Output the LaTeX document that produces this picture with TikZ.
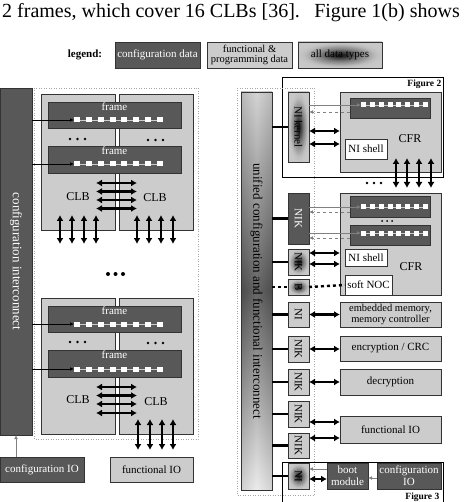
\documentclass[tikz,border=0pt]{standalone}
\usepackage{fontspec}
\setmainfont{Liberation Serif}
\usetikzlibrary{arrows.meta,calc}
\definecolor{dk}{HTML}{585858}
\definecolor{lt}{HTML}{CCCCCC}
\definecolor{edge}{HTML}{333333}
\pgfdeclareradialshading{mixshade}{\pgfpoint{0bp}{0bp}}{color(0bp)=(black!90); color(3bp)=(black!85); color(12bp)=(black!50); color(21bp)=(black!26); color(25bp)=(black!22); color(50bp)=(black!20)}
\newcommand\fsz[2]{\fontsize{#1}{#2}\selectfont}
\newcommand\bx[7][]{\node[#1,inner sep=0pt,outer sep=0pt,align=center,minimum width={#4pt-#2pt},minimum height={#5pt-#3pt},anchor=north west] (#6) at (#2,#3) {#7};}
\newcommand\chain[6]{% name, first x, pitch, y, w, h
  \foreach \i in {1,...,8}{\node[sq,minimum width=#5pt,minimum height=#6pt] (#1-\i) at ({#2+(\i-1)*#3},#4) {};}
  \foreach \i [count=\j from 2] in {1,...,7}{\draw[chainln] (#1-\i.east) -- (#1-\j.west);}
}
\begin{document}
\begin{tikzpicture}[x=1pt,y=-1pt,
  every node/.style={font=\fsz{11}{12}},
  darkbox/.style={draw=edge,fill=dk,text=white,line width=0.8pt},
  ltbox/.style={draw=edge,fill=lt,line width=0.8pt},
  wbox/.style={draw=edge,fill=white,line width=0.8pt},
  mixbox/.style={draw=edge,shade,shading=mixshade,line width=0.8pt},
  sq/.style={fill=white,draw=none,inner sep=0pt,outer sep=0pt},
  chainln/.style={line width=0.5pt,draw=white!80!black},
  feed/.style={line width=0.5pt,draw=black,-{Latex[length=4pt,width=3.5pt]}},
  back/.style={line width=0.5pt,draw=gray,dashed,-{Latex[length=4pt,width=3.5pt]}},
  gfeed/.style={line width=0.5pt,draw=gray,-{Latex[length=4pt,width=3.5pt]}},
  dbl/.style={line width=2.2pt,{Latex[length=6pt,width=7pt]}-{Latex[length=6pt,width=7pt]}},
  thk/.style={line width=2.4pt},
  dotln/.style={line width=2.4pt,dash pattern=on 3pt off 3pt},
  outl/.style={draw=gray!70,dotted,line width=0.5pt},
  rot/.style={rotate=-90},
  figlbl/.style={font=\bfseries\fsz{9.5}{10},inner sep=1.5pt}
]
\useasboundingbox (0,0) rectangle (464,502);

% ---------- running text ----------
\node[anchor=base west,inner sep=0pt,font=\fsz{20}{22}] (t1) at (2,17.5) {2 frames, which cover 16 CLBs [36].};
\node[anchor=base east,inner sep=0pt,font=\fsz{20}{22}] (t2) at (460,17.5) {Figure 1(b) shows};

% ---------- legend ----------
\node[font=\bfseries\fsz{11}{12}] (lg) at (85,55) {legend:};
\bx[darkbox]{115}{42}{200}{68}{lgA}{configuration data}
\bx[ltbox,font=\fsz{10.5}{10}]{207}{42}{292}{68}{lgB}{functional \&\\programming data}
\bx[mixbox]{298}{42}{382}{68}{lgC}{all data types}

% ---------- left: configuration interconnect ----------
\bx[darkbox]{0}{88}{32}{435}{cint}{}
\node[rot,text=white,font=\fsz{13}{14}] at (cint.center) {configuration interconnect};
\draw[outl] (34,88) rectangle (198,439);

% upper CLB pair
\bx[ltbox]{41}{94}{115}{230}{clbA}{}
\bx[ltbox]{119}{94}{193}{230}{clbB}{}
\bx[darkbox]{48}{102}{181}{128}{frA1}{}
\node[anchor=north,text=white,inner sep=1pt] at (frA1.north) {frame};
\chain{cA1}{77}{11.86}{120}{6}{5}
\draw[feed] (cA1-1.west -| cint.east) -- (cA1-1.west);
\bx[darkbox]{48}{146}{181}{173}{frA2}{}
\node[anchor=north,text=white,inner sep=1pt] at (frA2.north) {frame};
\chain{cA2}{77}{11.86}{164}{6}{5}
\draw[feed] (cA2-1.west -| cint.east) -- (cA2-1.west);
\foreach \x in {70,77.5,85} \fill (\x,139) circle (1.3pt);
\foreach \x in {148,155.5,163} \fill (\x,140) circle (1.3pt);
\node[font=\fsz{12}{13}] at (78,197) {CLB};
\node[font=\fsz{12}{13}] at (155,198) {CLB};
\foreach \y in {183,191.5,200,208.5}
  \draw[dbl] ($(clbA.east |- 0,\y)+(-19,0)$) -- ($(clbB.west |- 0,\y)+(18,0)$);
\foreach \x in {60,72,84,96}
  \draw[dbl] ($(clbA.south -| \x,0)+(0,-15)$) -- ($(clbA.south -| \x,0)+(0,14)$);
\foreach \x in {137,149,161,173}
  \draw[dbl] ($(clbB.south -| \x,0)+(0,-15)$) -- ($(clbB.south -| \x,0)+(0,14)$);

\foreach \x in {108,115.5,123} \fill (\x,274) circle (2pt);

% lower CLB pair
\bx[ltbox]{41}{298}{115}{434}{clbC}{}
\bx[ltbox]{119}{298}{193}{434}{clbD}{}
\bx[darkbox]{48}{306}{181}{332}{frC1}{}
\node[anchor=north,text=white,inner sep=1pt] at (frC1.north) {frame};
\chain{cC1}{77}{11.86}{324}{6}{5}
\draw[feed] (cC1-1.west -| cint.east) -- (cC1-1.west);
\bx[darkbox]{48}{350}{181}{377}{frC2}{}
\node[anchor=north,text=white,inner sep=1pt] at (frC2.north) {frame};
\chain{cC2}{77}{11.86}{369}{6}{5}
\draw[feed] (cC2-1.west -| cint.east) -- (cC2-1.west);
\foreach \x in {70,77.5,85} \fill (\x,342) circle (1.3pt);
\foreach \x in {148,155.5,163} \fill (\x,343) circle (1.3pt);
\node[font=\fsz{12}{13}] at (78,400) {CLB};
\node[font=\fsz{12}{13}] at (156,402) {CLB};
\foreach \y in {387,395.5,404,413}
  \draw[dbl] ($(clbC.east |- 0,\y)+(-19,0)$) -- ($(clbD.west |- 0,\y)+(18,0)$);
\foreach \x in {138,150,162,173}
  \draw[dbl] ($(clbD.south -| \x,0)+(0,-15)$) -- ($(clbD.south -| \x,0)+(0,16)$);

\bx[darkbox]{0}{457}{84}{482}{cio}{configuration IO}
\draw[gfeed] (cio.north -| 16,0) -- (cint.south -| 16,0);
\bx[ltbox]{110}{457}{193}{482}{fio}{functional IO}

% ---------- right: unified interconnect ----------
\bx[draw=black,line width=1pt,fill=white]{282}{78}{443}{178}{fig2}{}
\node[figlbl,anchor=north east] at (fig2.north east) {Figure 2};
\bx[draw=black,line width=1pt,fill=white]{282}{462}{443}{512}{fig3}{}
\node[figlbl,anchor=base east] at (441,499) {Figure 3};

\path node[inner sep=0pt,outer sep=0pt,minimum width=31pt,minimum height=398pt,anchor=north west] (uni) at (241,92) {};
\shade[top color=gray!45,bottom color=black!80] (uni.north west) rectangle (uni.east);
\shade[top color=black!80,bottom color=gray!20] (uni.west) rectangle (uni.south east);
\shade[left color=black!40,right color=black!40,middle color=white,opacity=0.25] (uni.north west) rectangle (uni.south east);
\draw[edge,line width=0.8pt] (uni.north west) rectangle (uni.south east);
\node[rot,font=\fsz{13}{14}] at (uni.center) {unified configuration and functional interconnect};
\draw[outl] (237,88) rectangle (314,495);

% Figure 2 region: NI kernel + CFR
\bx[mixbox]{288}{92}{309}{162}{nik1}{}
\node[rot] at (nik1.center) {NI kernel};
\draw[thk] (nik1.west -| uni.east) -- (nik1.west);
\bx[ltbox]{340}{92}{441}{172}{cfr1}{}
\bx[darkbox]{350}{98}{430}{118}{fr1}{}
\chain{c1}{363.5}{8.86}{105}{5}{5}
\draw[gfeed] (c1-1.west -| nik1.east) -- (c1-1.west);
\draw[back] (fr1.west |- 0,112) -- (nik1.east |- 0,112);
\draw[dbl] (nik1.east |- 0,131) -- (cfr1.west |- 0,131);
\draw[dbl] (nik1.east |- 0,144) -- (cfr1.west |- 0,144);
\bx[wbox]{345}{139}{387}{159}{sh1}{NI shell}
\node[font=\fsz{12}{13}] at (410,139) {CFR};
\foreach \x in {396,407,419,431}
  \draw[dbl] ($(cfr1.south -| \x,0)+(0,-14)$) -- ($(cfr1.south -| \x,0)+(0,16)$);
\foreach \x in {367,374,381} \fill (\x,183) circle (1.3pt);

% second CFR
\bx[ltbox]{340}{193}{441}{295}{cfr2}{}
\bx[darkbox]{350}{196}{430}{217}{fr2a}{}
\chain{c2a}{363.5}{8.86}{207}{5}{5}
\foreach \x in {382,387,392} \fill (\x,221) circle (1pt);
\bx[darkbox]{350}{225}{430}{245}{fr2b}{}
\chain{c2b}{363.5}{8.86}{233}{5}{5}
\bx[darkbox]{288}{193}{309}{244}{nik2}{}
\node[rot,text=white] at (nik2.center) {NIK};
\draw[thk] (nik2.west -| uni.east) -- (nik2.west);
\draw[gfeed] (c2a-1.west -| nik2.east) -- (c2a-1.west);
\draw[back] (fr2a.west |- 0,212) -- (nik2.east |- 0,212);
\draw[gfeed] (c2b-1.west -| nik2.east) -- (c2b-1.west);
\draw[back] (fr2b.west |- 0,238) -- (nik2.east |- 0,238);

\bx[mixbox]{288}{249}{309}{275}{nik3}{}
\node[rot] at (nik3.center) {NIK};
\draw[thk] (nik3.west -| uni.east) -- (nik3.west);
\draw[dbl] (nik3.east |- 0,253) -- (cfr2.west |- 0,253);
\draw[dbl] (nik3.east |- 0,264) -- (cfr2.west |- 0,264);
\bx[wbox]{345}{249}{387}{266}{sh2}{NI shell}
\node[font=\fsz{12}{13}] at (411,267) {CFR};

\bx[mixbox]{288}{279}{309}{295}{bb}{}
\node[rot] at (bb.center) {B};
\bx[wbox]{345}{275}{392}{295}{noc}{soft NOC}
\draw[dotln] (bb.west -| uni.east) -- (bb.west);
\draw[dotln] (bb.east) -- (noc.west);

% other units
\bx[ltbox]{288}{302}{309}{327}{ni4}{}
\node[rot] at (ni4.center) {NI};
\bx[ltbox,font=\fsz{10.5}{10.5}]{340}{302}{441}{327}{mem}{embedded memory,\\memory controller}
\draw[thk] (ni4.west -| uni.east) -- (ni4.west);
\draw[dbl] (ni4.east) -- (mem.west |- ni4.east);

\bx[ltbox]{288}{336}{309}{362}{nik5}{}
\node[rot] at (nik5.center) {NIK};
\bx[ltbox]{340}{336}{441}{361}{enc}{encryption / CRC}
\draw[thk] (nik5.west -| uni.east) -- (nik5.west);
\draw[dbl] (nik5.east) -- (enc.west |- nik5.east);

\bx[ltbox]{288}{369}{309}{395}{nik6}{}
\node[rot] at (nik6.center) {NIK};
\bx[ltbox]{340}{369}{441}{395}{dec}{decryption}
\draw[thk] (nik6.west -| uni.east) -- (nik6.west);
\draw[dbl] (nik6.east) -- (dec.west |- nik6.east);

\bx[ltbox]{288}{401}{309}{427}{nik7}{}
\node[rot] at (nik7.center) {NIK};
\bx[ltbox]{288}{433}{309}{458}{nik8}{}
\node[rot] at (nik8.center) {NIK};
\bx[ltbox]{340}{416}{441}{443}{fio2}{functional IO}
\draw[thk] (nik7.west -| uni.east) -- (nik7.west);
\draw[thk] (nik8.west -| uni.east) -- (nik8.west);
\draw[dbl] (nik7.east |- 0,422) -- (fio2.west |- 0,422);
\draw[dbl] (nik8.east |- 0,438) -- (fio2.west |- 0,438);

% Figure 3 region
\bx[mixbox]{288}{463}{309}{489}{ni9}{}
\node[rot] at (ni9.center) {NI};
\draw[thk] (ni9.west -| uni.east) -- (ni9.west);
\bx[darkbox,font=\fsz{11}{12}]{327}{463}{368}{489}{boot}{boot\\module}
\bx[darkbox,font=\fsz{11}{12}]{377}{463}{441}{489}{cfgio}{configuration\\IO}
\draw[gfeed] (cfgio.west |- 0,478) -- (boot.east |- 0,478);
\draw[gfeed] (boot.west |- 0,469) -- (ni9.east |- 0,469);
\draw[dbl] (ni9.east |- 0,479) -- (boot.west |- 0,479);
\end{tikzpicture}
\end{document}
